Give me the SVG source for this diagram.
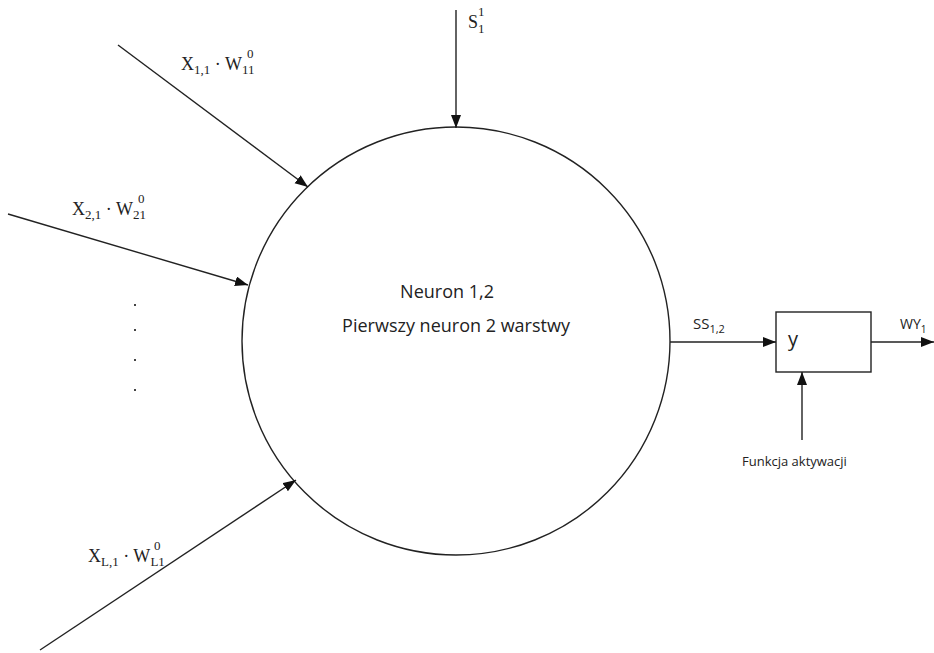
<svg xmlns="http://www.w3.org/2000/svg" width="934" height="653" viewBox="0 0 934 653">
<style>
.ln{stroke:#222;stroke-width:1.4;fill:none}
.ar{marker-end:url(#ah)}
.m{font-family:"Liberation Serif","DejaVu Serif",serif;fill:#222}
.sup{font-family:"Liberation Serif","DejaVu Serif",serif;fill:#222;font-size:13px}
.s{font-family:"Open Sans","Liberation Sans",sans-serif;fill:#222}
</style>
<defs>
<marker id="ah" markerUnits="userSpaceOnUse" markerWidth="14" markerHeight="12" refX="13" refY="5" orient="auto">
<path d="M0,0 L13,5 L0,10 Z" fill="#111"/>
</marker>
</defs>
<rect width="934" height="653" fill="#fff"/>
<g id="neuron">
<circle cx="456" cy="341" r="214" class="ln"/>
<text class="s" x="447" y="298" font-size="18" text-anchor="middle">Neuron 1,2</text>
<text class="s" x="456" y="332" font-size="18" text-anchor="middle">Pierwszy neuron 2 warstwy</text>
</g>
<g id="activation">
<rect x="776" y="312" width="95" height="60" class="ln"/>
<text class="s" x="788" y="346" font-size="20">y</text>
</g>
<g id="labels">
<text class="m" x="181" y="70" font-size="18">X<tspan font-size="13" dy="4">1,1</tspan><tspan dy="-4"> · W</tspan><tspan font-size="13" dy="4">11</tspan></text>
<text class="sup" x="247" y="58">0</text>
<text class="m" x="72" y="215" font-size="18">X<tspan font-size="13" dy="4">2,1</tspan><tspan dy="-4"> · W</tspan><tspan font-size="13" dy="4">21</tspan></text>
<text class="sup" x="138" y="203">0</text>
<text class="m" x="88" y="562" font-size="18">X<tspan font-size="13" dy="4">L,1</tspan><tspan dy="-4"> · W</tspan><tspan font-size="13" dy="4">L1</tspan></text>
<text class="sup" x="154" y="550">0</text>
<text class="m" x="468" y="28" font-size="18">S<tspan font-size="13" dy="5">1</tspan></text>
<text class="sup" x="478" y="16">1</text>
<text class="s" x="693" y="329" font-size="15">SS<tspan font-size="11" dy="4">1,2</tspan></text>
<text class="s" x="900" y="329" font-size="14">WY<tspan font-size="10" dy="4">1</tspan></text>
<text class="s" x="742" y="466" font-size="13">Funkcja aktywacji</text>
<g fill="#444">
<rect x="134" y="304" width="2" height="2"/>
<rect x="134" y="329" width="2" height="2"/>
<rect x="134" y="359" width="2" height="2"/>
<rect x="134" y="389" width="2" height="2"/>
</g>
</g>
<g id="connectors">
<line x1="118" y1="45" x2="308" y2="187" class="ln ar"/>
<line x1="8" y1="214" x2="248" y2="285" class="ln ar"/>
<line x1="40" y1="650" x2="296" y2="480" class="ln ar"/>
<line x1="456" y1="10" x2="456" y2="128" class="ln ar"/>
<line x1="670" y1="342" x2="776" y2="342" class="ln ar"/>
<line x1="871" y1="342" x2="934" y2="342" class="ln ar"/>
<line x1="802" y1="440" x2="802" y2="372" class="ln ar"/>
</g>
</svg>
